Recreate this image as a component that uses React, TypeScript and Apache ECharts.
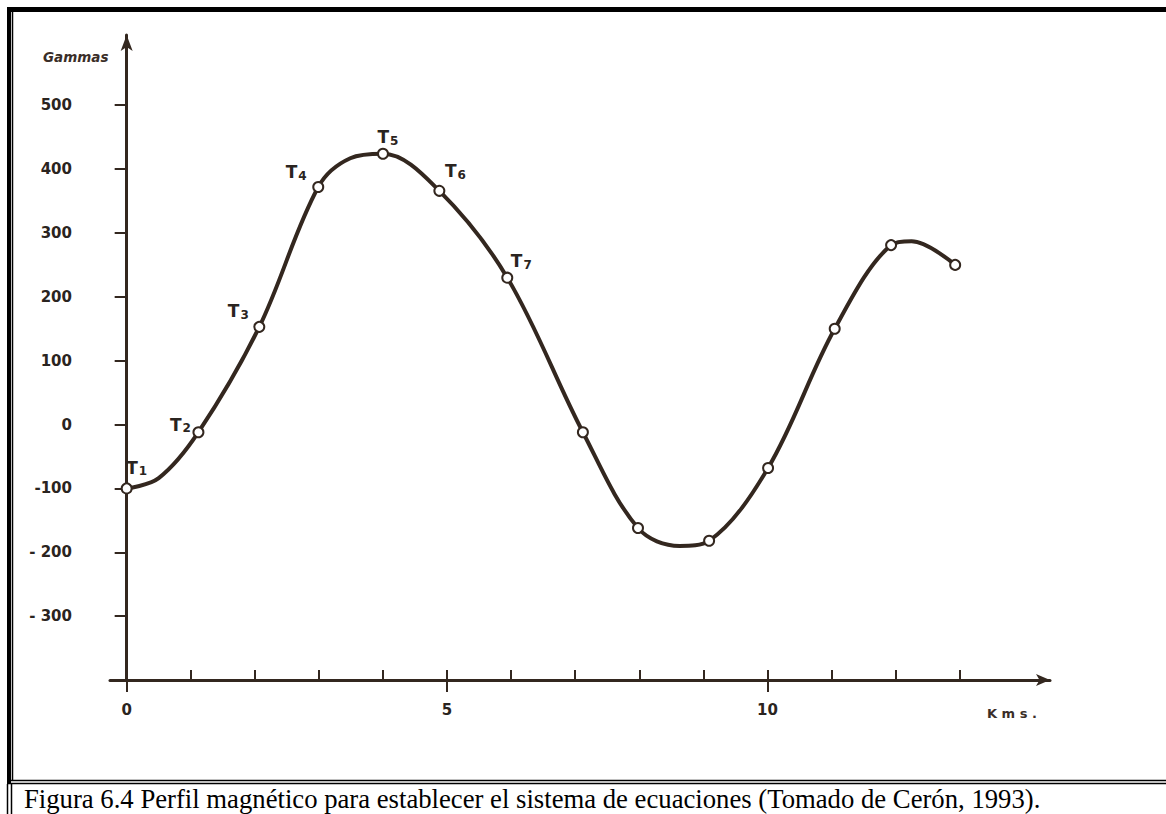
import React, { useEffect, useRef } from 'react';
import * as echarts from 'echarts';

// Measured stations along the magnetic profile (km, gammas)
const kmValues = [0, 1.12, 2.07, 2.99, 4.0, 4.88, 5.94, 7.12, 7.98, 9.09, 10.01, 11.05, 11.93, 12.93];
const gammaValues = [-100, -12, 153, 372, 424, 366, 230, -12, -162, -182, -68, 150, 281, 250];
const stationSubscripts = ['1', '2', '3', '4', '5', '6', '7', '', '', '', '', '', '', ''];

// Extra points
const curveExtraKm = [0.5, 3.49, 8.63, 12.25];
const curveExtraGamma = [-84, 417, -190, 287];

// Axis ticks / labels
const kmTicks = [1, 2, 3, 4, 5, 6, 7, 8, 9, 10, 11, 12, 13];
const kmLabels = [0, 5, 10];
const kmCrossTicks = [0, 5, 10];
const gammaTicks = [-300, -200, -100, 0, 100, 200, 300, 400, 500];

const yAxisName = 'Gammas';
const xAxisName = 'K m s .';
const caption = 'Figura 6.4 Perfil magnético para establecer el sistema de ecuaciones (Tomado de Cerón, 1993).';

// label placement (pixels relative to the marker), styles only
const labelOffsets = [[10, -20], [-18, -7], [-21, -15], [-22, -14], [5, -16], [16, -19], [14, -16]];

const INK = '#33271f';
const TXT = '#2a2420';
const SANS = '"DejaVu Sans", "Liberation Sans", Arial, sans-serif';

export default function App() {
  const ref = useRef<HTMLDivElement>(null);
  useEffect(() => {
    if (!ref.current) return;
    const chart = echarts.init(ref.current, null, { renderer: 'svg' });

    const curve = kmValues
      .map((k, i) => [k, gammaValues[i]])
      .concat(curveExtraKm.map((k, i) => [k, curveExtraGamma[i]]))
      .sort((a, b) => a[0] - b[0]);

    const markers = kmValues.map((k, i) => {
      const sub = stationSubscripts[i];
      const item: any = { value: [k, gammaValues[i]] };
      if (sub) {
        const off = labelOffsets[i] || [0, 0];
        item.label = {
          show: true,
          position: 'inside',
          offset: off,
          formatter: `{t|T}{s|${sub}}`,
        };
      }
      return item;
    });

    const option: any = {
      animation: false,
      backgroundColor: '#ffffff',
      grid: { left: 110, right: 116, top: 35, bottom: 134 },
      xAxis: [
        {
          type: 'value',
          position: 'bottom',
          min: -0.26,
          max: 14.41,
          axisLine: {
            show: true,
            onZero: false,
            symbol: ['none', 'arrow'],
            symbolSize: [9, 14],
            lineStyle: { color: INK, width: 3 },
          },
          axisTick: {
            show: true,
            inside: true,
            length: 10,
            customValues: kmTicks,
            lineStyle: { color: INK, width: 2 },
          },
          axisLabel: {
            show: true,
            customValues: kmLabels,
            margin: 22,
            color: TXT,
            fontFamily: SANS,
            fontWeight: 'bold',
            fontSize: 15,
          },
          splitLine: { show: false },
        },
        {
          type: 'value',
          position: 'bottom',
          min: -0.26,
          max: 14.41,
          axisLine: { show: false, onZero: false },
          axisTick: {
            show: true,
            inside: false,
            length: 12,
            customValues: kmCrossTicks,
            lineStyle: { color: INK, width: 2 },
          },
          axisLabel: { show: false },
          splitLine: { show: false },
        },
      ],
      yAxis: {
        type: 'value',
        min: -400,
        max: 610,
        axisLine: {
          show: true,
          onZero: true,
          symbol: ['none', 'arrow'],
          symbolSize: [9, 16],
          lineStyle: { color: INK, width: 3 },
        },
        axisTick: {
          show: true,
          inside: false,
          length: 12,
          customValues: gammaTicks,
          lineStyle: { color: INK, width: 2 },
        },
        axisLabel: {
          show: true,
          customValues: gammaTicks,
          margin: 38,
          color: TXT,
          fontFamily: SANS,
          fontWeight: 'bold',
          fontSize: 15,
          formatter: (v: number) => (v === -100 ? '-100' : v < 0 ? '- ' + Math.abs(v) : String(v)),
        },
        splitLine: { show: false },
      },
      series: [
        {
          type: 'line',
          data: curve,
          smooth: 0.35,
          symbol: 'none',
          lineStyle: { color: INK, width: 4 },
          z: 2,
          silent: true,
        },
        {
          type: 'scatter',
          data: markers,
          symbol: 'circle',
          symbolSize: 10,
          itemStyle: { color: '#ffffff', borderColor: INK, borderWidth: 2, opacity: 1 },
          label: {
            show: false,
            color: TXT,
            fontFamily: SANS,
            rich: {
              t: { fontSize: 17, fontWeight: 'bold', color: TXT, fontFamily: SANS, verticalAlign: 'top', lineHeight: 18 },
              s: { fontSize: 12, fontWeight: 'bold', color: TXT, fontFamily: SANS, verticalAlign: 'bottom', lineHeight: 13, padding: [10, 0, 0, 1] },
            },
          },
          z: 3,
        },
      ],
      graphic: [
        // frame
        { type: 'rect', silent: true, shape: { x: 7, y: 7, width: 1159, height: 5 }, style: { fill: '#000' } },
        { type: 'rect', silent: true, shape: { x: 7, y: 7, width: 4, height: 777 }, style: { fill: '#000' } },
        { type: 'line', silent: true, shape: { x1: 12.5, y1: 12, x2: 12.5, y2: 780 }, style: { stroke: '#000', lineWidth: 1.5 } },
        { type: 'line', silent: true, shape: { x1: 11, y1: 780.5, x2: 1166, y2: 780.5 }, style: { stroke: '#000', lineWidth: 1.5 } },
        { type: 'line', silent: true, shape: { x1: 7, y1: 783.5, x2: 1166, y2: 783.5 }, style: { stroke: '#000', lineWidth: 1.5 } },
        { type: 'line', silent: true, shape: { x1: 7.5, y1: 784, x2: 7.5, y2: 814 }, style: { stroke: '#000', lineWidth: 1.5 } },
        { type: 'line', silent: true, shape: { x1: 11.5, y1: 784, x2: 11.5, y2: 814 }, style: { stroke: '#000', lineWidth: 1.5 } },
        // axis names
        {
          type: 'text', silent: true, x: 43, y: 57,
          style: { text: yAxisName, fill: '#3a2e28', font: `italic bold 13.5px ${SANS}`, verticalAlign: 'middle' },
        },
        {
          type: 'text', silent: true, x: 987, y: 713,
          style: { text: xAxisName, fill: '#3a2e28', font: `bold 13px ${SANS}`, verticalAlign: 'middle' },
        },
        // caption
        {
          type: 'text', silent: true, x: 24, y: 799,
          style: { text: caption, fill: '#000', font: '26.7px "Liberation Serif", "Times New Roman", serif', verticalAlign: 'middle' },
        },
      ],
    };
    chart.setOption(option);
    return () => chart.dispose();
  }, []);
  return (
    <div
      ref={ref}
      style={{ position: 'fixed', left: 0, top: 0, width: 1166, height: 814, background: '#fff' }}
    />
  );
}
